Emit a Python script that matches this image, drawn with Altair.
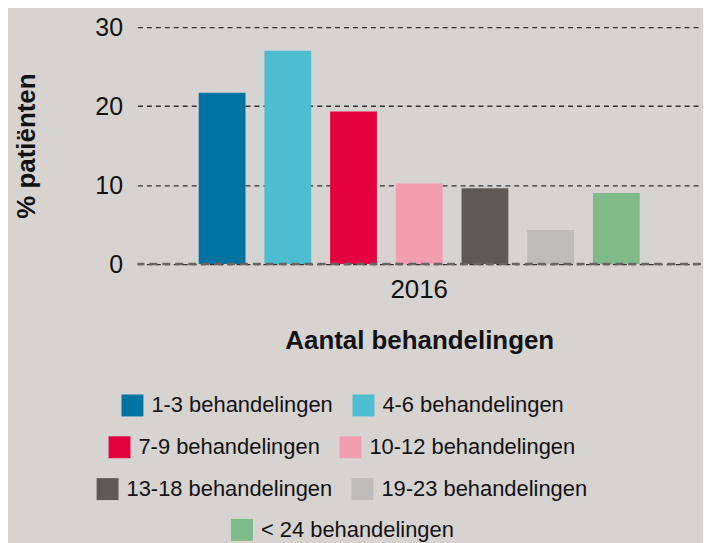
import altair as alt
import pandas as pd

categories = ["1-3 behandelingen", "4-6 behandelingen", "7-9 behandelingen",
              "10-12 behandelingen", "13-18 behandelingen", "19-23 behandelingen",
              "< 24 behandelingen"]
values = [21.7, 27.0, 19.3, 10.2, 9.6, 4.3, 9.0]
years = ["2016"] * 7
colors = ["#0073a0", "#4dbdd0", "#e4003f", "#f29db0", "#5e5955", "#bebdbc", "#80ba88"]
y_ticks = [0, 10, 20, 30]

df = pd.DataFrame({"jaar": years, "cat": categories, "pct": values})
zero = pd.DataFrame({"y": [0]})

FONT = "Liberation Sans"

# legend rows (indices into categories) and their placement
legend_rows = [[0, 1], [2, 3], [4, 5], [6]]
legend_x = [-16, -29, -41, 94]
legend_y = [369, 411, 453, 494]

x_enc = alt.X("jaar:N",
              scale=alt.Scale(paddingOuter=0.1126, paddingInner=0),
              axis=alt.Axis(title="Aantal behandelingen", labelAngle=0, labelFontSize=26,
                            labelColor="#111", labelPadding=13, ticks=False, domain=False,
                            titleFontSize=26, titleFontWeight="bold", titleColor="#111",
                            titlePadding=25, labelFont=FONT, titleFont=FONT))
xo_enc = alt.XOffset("cat:N",
                     scale=alt.Scale(domain=categories, paddingInner=0.288, paddingOuter=0.144))
y_enc = alt.Y("pct:Q", scale=alt.Scale(domain=[0, 30]),
              axis=alt.Axis(title="% patiënten", values=y_ticks, labelFontSize=25,
                            labelColor="#111", labelPadding=15, ticks=False, domain=False,
                            grid=True, gridDash=[5, 4], gridColor="#333", gridWidth=1.3,
                            titleFontSize=26, titleFontWeight="bold", titleColor="#111",
                            titlePadding=56, labelFont=FONT, titleFont=FONT))

layers = []
for row, lx, ly in zip(legend_rows, legend_x, legend_y):
    cats = [categories[i] for i in row]
    cols = [colors[i] for i in row]
    layers.append(
        alt.Chart(df).transform_filter(
            alt.FieldOneOfPredicate(field="cat", oneOf=cats)
        ).mark_bar().encode(
            x=x_enc, xOffset=xo_enc, y=y_enc,
            color=alt.Color("cat:N", scale=alt.Scale(domain=cats, range=cols),
                            legend=alt.Legend(title=None, orient="none", legendX=lx, legendY=ly,
                                              direction="horizontal", columnPadding=19,
                                              symbolType="square", symbolSize=484,
                                              symbolStrokeWidth=0, labelFontSize=22,
                                              labelFont=FONT, labelColor="#111", labelOffset=8,
                                              labelLimit=400))
        )
    )

zero_line = alt.Chart(zero).mark_rule(color="#666", strokeWidth=2.5, strokeDash=[8, 5]).encode(
    y="y:Q"
)

chart = alt.layer(*layers, zero_line).resolve_scale(color="independent").properties(
    width=566, height=238, background="#d7d3d0",
    padding={"left": 5, "top": 6, "right": 0, "bottom": 5}
).configure_view(stroke=None)

chart.save("out.html", embed_options={"renderer": "svg", "actions": False})
